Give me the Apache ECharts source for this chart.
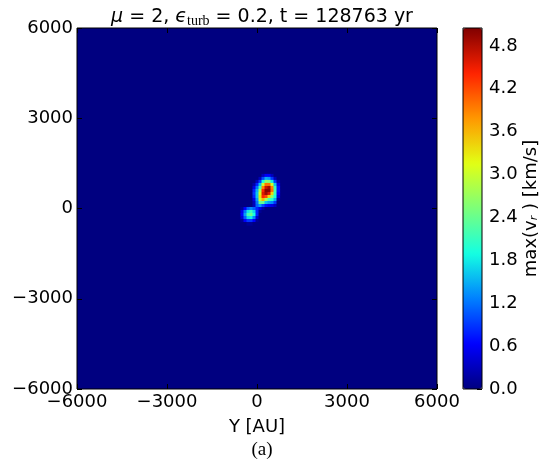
<!DOCTYPE html>
<html>
<head>
<meta charset="utf-8">
<script src="https://cdn.jsdelivr.net/npm/echarts@6/dist/echarts.min.js"></script>
<style>
  html, body { margin: 0; padding: 0; background: #fff; }
  #main { width: 548px; height: 467px; }
</style>
</head>
<body>
<div id="main"></div>
<script>
// cell centres in AU (only the region around the clump; everything else is 0)
const xCells = [-500, -400, -300, -200, -100, 0, 100, 200, 300, 400, 500, 600, 700];
const yCells = [1100, 1000, 900, 800, 700, 600, 500, 400, 300, 200, 100, 0, -100, -200, -300, -400, -500];
const cellSize = 100;

// max(v_r) in km/s, rows follow yCells, columns follow xCells
const vr = [
  [0, 0, 0, 0, 0, 0, 0, 0.3, 0.6, 0.6, 0.3, 0, 0],
  [0, 0, 0, 0, 0, 0, 0.3, 1.0, 1.5, 1.4, 0.9, 0.3, 0],
  [0, 0, 0, 0, 0, 0.3, 0.9, 1.9, 2.6, 2.5, 1.8, 0.9, 0.2],
  [0, 0, 0, 0, 0.2, 0.8, 1.6, 3.0, 4.0, 4.0, 3.0, 1.6, 0.5],
  [0, 0, 0, 0, 0.5, 1.2, 2.2, 3.9, 4.7, 4.9, 3.9, 2.1, 0.7],
  [0, 0, 0, 0, 0.8, 1.5, 2.8, 4.4, 5.0, 5.0, 4.0, 2.2, 0.7],
  [0, 0, 0, 0, 0.9, 1.6, 3.1, 4.6, 4.9, 4.6, 3.4, 2.1, 0.6],
  [0, 0, 0, 0, 0.8, 1.6, 3.3, 4.4, 4.2, 3.4, 2.6, 1.9, 0.4],
  [0, 0, 0, 0, 0.5, 1.4, 3.0, 3.6, 2.8, 2.2, 2.0, 1.5, 0.1],
  [0, 0, 0, 0, 0.3, 1.2, 2.4, 2.4, 1.6, 1.4, 1.3, 0.9, 0],
  [0, 0, 0, 0, 0.3, 1.1, 1.4, 1.0, 0.7, 0.6, 0.5, 0.3, 0],
  [0.1, 0.6, 1.1, 1.3, 1.1, 0.8, 0.5, 0.2, 0, 0, 0, 0, 0],
  [0.5, 1.2, 1.8, 2.1, 1.7, 0.8, 0.1, 0, 0, 0, 0, 0, 0],
  [0.6, 1.4, 2.2, 2.4, 1.9, 0.8, 0, 0, 0, 0, 0, 0, 0],
  [0.4, 1.1, 1.7, 1.8, 1.3, 0.4, 0, 0, 0, 0, 0, 0, 0],
  [0.1, 0.6, 0.9, 0.9, 0.6, 0.1, 0, 0, 0, 0, 0, 0, 0],
  [0, 0, 0.1, 0.1, 0, 0, 0, 0, 0, 0, 0, 0, 0]
];

const vMin = 0;
const vMax = 5.05;
const jet = ['#000080', '#0000ff', '#0080ff', '#14ffe2', '#7cff7a', '#e2ff14', '#ff9700', '#ff2200', '#800000'];

const cells = [];
yCells.forEach((y, i) => {
  xCells.forEach((x, j) => cells.push([x, y, vr[i][j]]));
});

const font = 'DejaVu Sans';
const minus = (v) => (v < 0 ? '\u2212' + Math.abs(v) : String(v));

function renderCell(params, api) {
  const x = api.value(0);
  const y = api.value(1);
  const p0 = api.coord([x - cellSize / 2, y + cellSize / 2]);
  const p1 = api.coord([x + cellSize / 2, y - cellSize / 2]);
  return {
    type: 'rect',
    shape: { x: p0[0], y: p0[1], width: p1[0] - p0[0] + 0.6, height: p1[1] - p0[1] + 0.6 },
    style: { fill: api.visual('color') }
  };
}

const tickStyle = { show: true, inside: true, length: 5, lineStyle: { color: '#000', width: 1 } };
const noLine = { show: false, onZero: false };
const labelStyle = { fontFamily: font, fontSize: 18, color: '#000' };

const myChart = echarts.init(document.getElementById('main'));
myChart.setOption({
  animation: false,
  backgroundColor: '#fff',
  title: [
    {
      text: '{m|\u03bc} = 2, {e|\u03f5}{s|turb} = 0.2, t = 128763 yr',
      left: 257, top: 1, textAlign: 'center',
      textStyle: {
        fontFamily: font, fontSize: 19, fontWeight: 'normal', color: '#000',
        rich: {
          m: { fontFamily: font, fontSize: 19, fontStyle: 'italic', color: '#000' },
          e: { fontFamily: font, fontSize: 19, fontStyle: 'italic', color: '#000' },
          s: { fontFamily: 'Liberation Serif', fontSize: 14, color: '#000', padding: [8, 0, 0, 0] }
        }
      }
    },
    {
      text: '(a)',
      left: 257, top: 436, textAlign: 'center',
      textStyle: { fontFamily: 'Liberation Serif', fontSize: 19, fontWeight: 'normal', color: '#000' }
    }
  ],
  grid: [
    { left: 77, top: 28, width: 360, height: 361, outerBoundsMode: 'none', containLabel: false, show: true, backgroundColor: '#000080', borderColor: '#000', borderWidth: 1, z: 0 },
    { left: 463, top: 28, width: 19, height: 361, outerBoundsMode: 'none', containLabel: false, show: true, backgroundColor: 'transparent', borderColor: '#000', borderWidth: 1, z: 10 }
  ],
  xAxis: [
    {
      gridIndex: 0, type: 'value', min: -6000, max: 6000, interval: 3000, position: 'bottom',
      axisLine: noLine, axisTick: tickStyle, splitLine: { show: false },
      axisLabel: Object.assign({ margin: 4, formatter: minus }, labelStyle),
      name: 'Y [AU]', nameLocation: 'middle', nameGap: 29, nameMoveOverlap: false, nameTextStyle: labelStyle
    },
    {
      gridIndex: 0, type: 'value', min: -6000, max: 6000, interval: 3000, position: 'top',
      axisLine: noLine, axisTick: tickStyle, splitLine: { show: false }, axisLabel: { show: false }
    },
    {
      gridIndex: 1, type: 'value', min: 0, max: 1, show: false
    }
  ],
  yAxis: [
    {
      gridIndex: 0, type: 'value', min: -6000, max: 6000, interval: 3000, position: 'left',
      axisLine: noLine, axisTick: tickStyle, splitLine: { show: false },
      axisLabel: Object.assign({ margin: 4, formatter: minus }, labelStyle),
      name: 'X [AU]', nameLocation: 'middle', nameGap: 76, nameMoveOverlap: false, nameTextStyle: labelStyle
    },
    {
      gridIndex: 0, type: 'value', min: -6000, max: 6000, interval: 3000, position: 'right',
      axisLine: noLine, axisTick: tickStyle, splitLine: { show: false }, axisLabel: { show: false }
    },
    {
      gridIndex: 1, type: 'value', min: vMin, max: vMax, interval: 0.6, position: 'right',
      axisLine: noLine, axisTick: tickStyle, splitLine: { show: false },
      axisLabel: Object.assign({ margin: 7, showMaxLabel: false, formatter: (v) => v.toFixed(1) }, labelStyle),
      name: 'max({i|v}{r|r} ) [km/s]', nameLocation: 'middle', nameRotate: 90, nameGap: 40,
      nameTextStyle: Object.assign({
        rich: {
          i: { fontFamily: font, fontSize: 18, color: '#000' },
          r: { fontFamily: font, fontSize: 11, fontStyle: 'italic', color: '#000', padding: [7, 0, 0, 0] }
        }
      }, labelStyle)
    }
  ],
  visualMap: {
    type: 'continuous',
    seriesIndex: 0,
    dimension: 2,
    min: vMin, max: vMax,
    calculable: false,
    hoverLink: false,
    left: 463, top: 28,
    itemWidth: 19, itemHeight: 361,
    padding: 0,
    text: null,
    showLabel: false,
    inRange: { color: jet },
    z: 5
  },
  series: [
    {
      type: 'custom',
      xAxisIndex: 0, yAxisIndex: 0,
      renderItem: renderCell,
      clip: true,
      encode: { x: 0, y: 1 },
      data: cells,
      z: 2
    }
  ]
});
</script>
</body>
</html>
